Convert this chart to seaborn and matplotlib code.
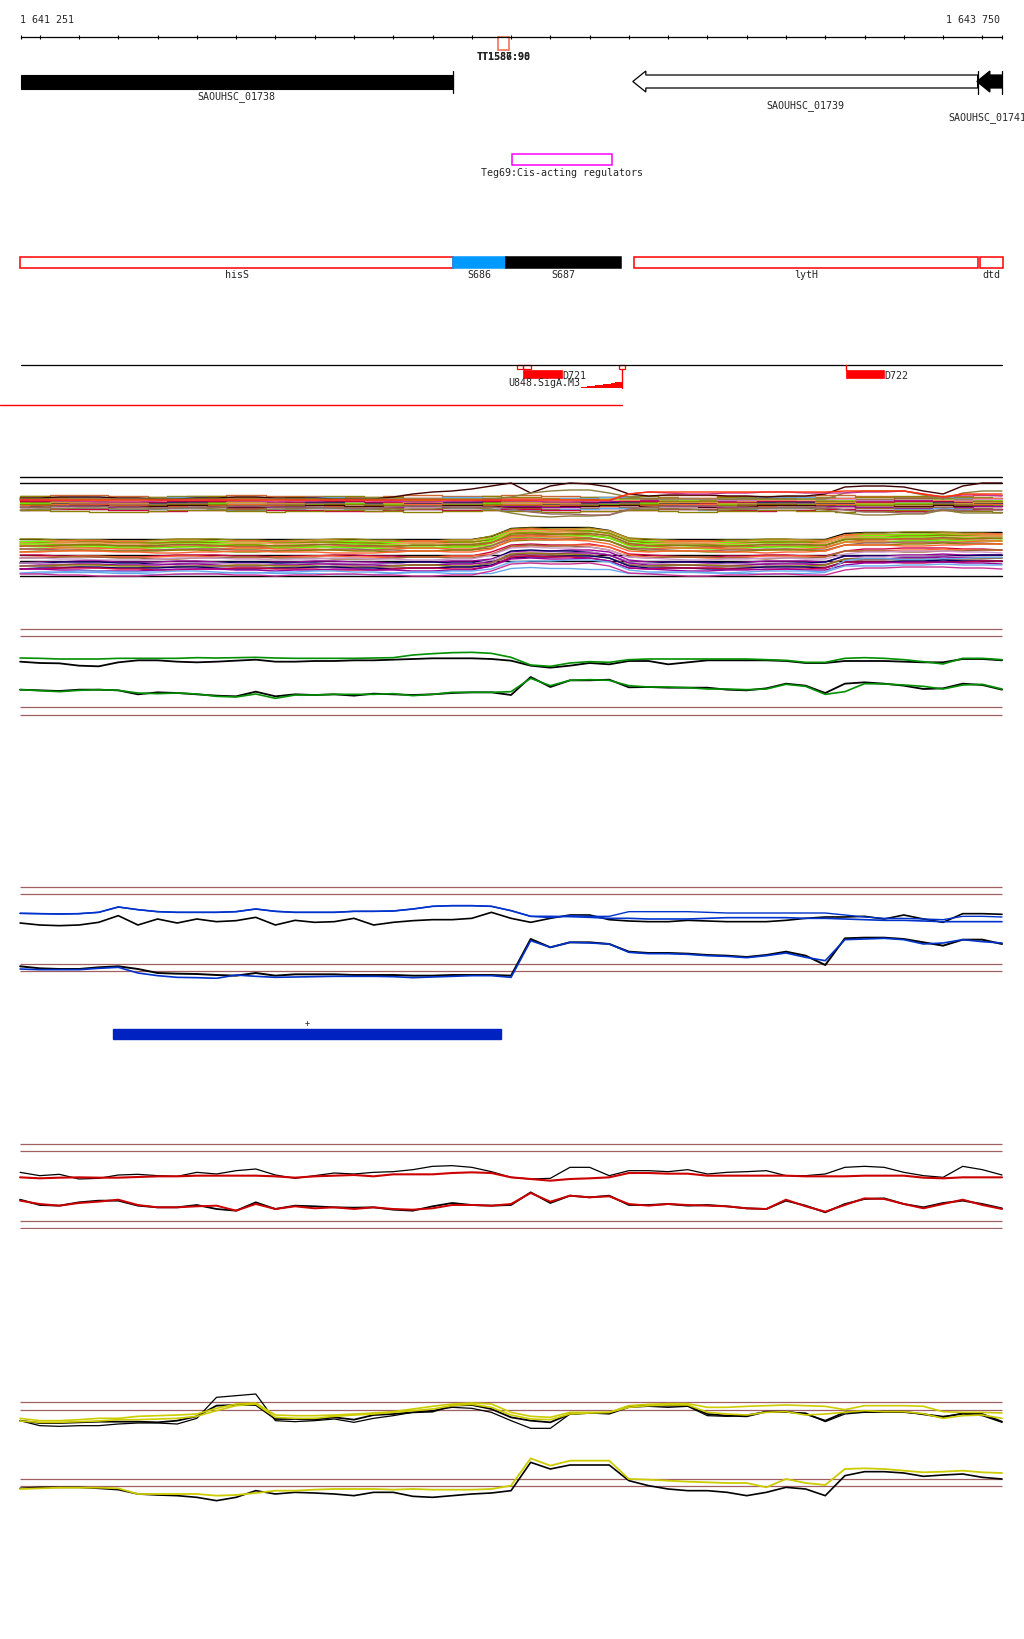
import numpy as np
import pandas as pd
import seaborn as sns
import matplotlib.pyplot as plt
from matplotlib.patches import Rectangle, Polygon

# ---- region / probes ----
region_start, region_end = 1641251, 1643750
ruler_ticks = [1641251] + list(range(1641300, 1643701, 100)) + [1643750]
pos = np.arange(1641250, 1643751, 50)   # probe positions (51)

# ---- annotation features ----
gene_names = ['SAOUHSC_01738', 'SAOUHSC_01739', 'SAOUHSC_01741']
gene_starts = [1641251, 1642810, 1643686]
gene_ends = [1642352, 1643688, 1643750]
gene_strands = ['+', '-', '-']
gene_fills = ['black', 'white', 'black']

term_names = ['TT1586:90', 'TT1587:98']
term_start, term_end = 1642467, 1642495

reg_name = 'Teg69:Cis-acting regulators'
reg_start, reg_end = 1642502, 1642756

seg_names = ['hisS', 'S686', 'S687', 'lytH', 'dtd']
seg_starts = [1641250, 1642353, 1642487, 1642813, 1643693]
seg_ends = [1642353, 1642487, 1642780, 1643688, 1643752]
seg_fills = ['white', '#0099FF', 'black', 'white', 'white']
seg_edges = ['red', '#0099FF', 'black', 'red', 'red']

site_names = ['D721', 'D722']
site_starts = [1642531, 1643352]
site_ends = [1642630, 1643450]
small_box_starts = [1642516, 1642531, 1642774]
small_box_ends = [1642531, 1642551, 1642790]
tss_name = 'U848.SigA.M3'
tss_steps = [1642678, 1642693, 1642713, 1642734, 1642754, 1642764, 1642782]
tss_heights = [1, 2, 3, 4, 5, 6.5, 6.5]
tss_pos = 1642782
blue_block = (1641486, 1642474)

# ---- multicolour expression bundle ----
top_hump = [0]*19 + [1, 3, 5, 7, 9, 12, 14, 4, 12, 15, 15, 12, 4, 2, 2, 2, 2, 2, 2, 2, 2, 2, 3, 10, 12, 12, 12, 8, 4, 12, 14, 14]
top_hump2 = [0]*25 + [2, 6, 8, 9, 9, 6, 2] + [0]*10 + [6, 8, 8, 8, 4, 0, 6, 8, 8]
top_mid = [0]*31 + [6] + [8]*10 + [9, 9, 9, 9, 6, 3, 6, 6, 6]
top_dip = [0]*25 + [-3, -6, -7, -7, -7, -7, -2] + [0]*9 + [-1, -4, -5, -5, -5, -5, -2, -4, -4, -4]
bot_main = [0]*24 + [3, 11, 12, 12, 12, 12, 9, 1] + [0]*10 + [6] + [7]*8
bot_blue = [0]*25 + [4, 5, 5, 5, 5, 5] + [0]*11 + [12] + [15]*8
flat = [0]*51
shapes = {'flat': flat, 'hump': top_hump, 'hump2': top_hump2, 'mid': top_mid,
          'dip': top_dip, 'main': bot_main, 'blue': bot_blue}

# small step-wise deviations seen along individual bundle lines
wiggle_a = [0, 0, 1, 1, 1, 0, 0, -1, -1, 0, 0, 1, 1, 0, 0, 0, -1, -1, -1, 0, 1, 1, 0, 0, 0,
            1, 1, 0, 0, -1, -1, 0, 0, 1, 1, 1, 0, 0, -1, 0, 0, 1, 1, 0, 0, -1, -1, 0, 0, 1, 1]
wiggle_b = [1, 1, 0, 0, -1, -1, -1, 0, 1, 1, 1, 0, 0, -1, 0, 0, 1, 1, 0, 0, -1, -1, 0, 0, 1,
            0, 0, -1, -1, 0, 0, 1, 1, 0, -1, -1, 0, 0, 1, 1, 0, 0, -1, 0, 0, 1, 1, 1, 0, 0, -1]
wiggle_c = [-1, 0, 0, 1, 1, 0, 0, 0, 1, 1, 0, -1, -1, 0, 0, 1, 1, 0, 0, -1, 0, 0, 1, 1, 0,
            -1, -1, -1, 0, 0, 1, 1, 0, 0, 0, -1, -1, 0, 1, 1, 1, 0, 0, -1, -1, 0, 0, 1, 0, 0, 0]
wiggles = {'0': flat, 'a': wiggle_a, 'b': wiggle_b, 'c': wiggle_c}

bundle_levels = [111.7, 105.7,
                 93, 92, 91, 90.5, 90, 89, 89, 88, 88, 87, 87, 86, 86, 85, 85, 84, 84, 83, 82, 81, 80, 79, 78,
                 91, 90, 88, 89, 80, 82,
                 49.5, 49, 48, 47, 46.5, 46, 45, 44, 43.5, 43, 42, 41, 40, 39, 38, 37, 34.3, 33, 32, 31, 30,
                 27.7, 27, 26, 25, 24, 23, 22, 21, 20, 19, 17, 15.5, 14, 12.7]
bundle_colors = ['black', 'black',
                 '#CC6633', '#8B8000', '#66AAEE', '#FF6633', '#996633', '#66FF00', '#CC99CC', '#990099',
                 '#FF9966', '#8B8000', '#CC0044', '#000066', '#CC9933', '#66FF00', '#996666', '#FF6633',
                 '#8B8000', '#400000', '#990099', '#996633', '#66AAEE', '#CC0044', '#8B8000',
                 '#400000', '#8B7D3A', '#CC3399', '#FF3300', '#8B7D3A', '#996666',
                 'black', '#8B8000', '#CC9933', '#FF6633', '#66FF00', '#8B8000', '#FF9966', '#66FF00',
                 '#996633', '#8B8000', '#CC6633', '#66FF00', '#FF6633', '#996666', '#8B8000', '#FF6633',
                 'black', '#CC0044', '#FF6633', '#996633', '#CC99CC',
                 'black', '#990099', '#000066', '#CC99CC', '#990099', '#8B8000', '#996666', '#000066',
                 '#CC0044', '#990099', '#66AAEE', '#66AAEE', '#CC3399', 'black']
bundle_shapes = ['flat', 'flat'] + ['flat']*23 + ['hump', 'hump2', 'mid', 'mid', 'dip', 'dip'] + \
                ['main']*16 + ['flat'] + ['main']*4 + ['flat'] + ['main']*10 + ['blue', 'main', 'flat']
bundle_wiggle = '00' + 'abcabcabcabcabcabcabcab' + 'a0b0ca' + '0bcabcabcabcabca' + '0' + 'bcab' + '0' + \
                'cabcabcabc' + 'ab0'

# ---- paired expression tracks (black vs coloured) ----
green_up = [183, 182, 180, 180, 180, 182, 182, 182, 182, 184, 183, 184, 185, 183, 182, 182, 182, 182, 183, 184, 192, 196, 199, 200, 197, 185, 162, 158, 168, 172, 170, 178, 180, 180, 180, 180, 180, 180, 178, 176, 170, 170, 182, 184, 182, 178, 172, 165, 182, 182, 178]
green_up_k = [172, 168, 167, 160, 158, 170, 176, 176, 172, 170, 172, 175, 178, 172, 172, 174, 174, 176, 176, 178, 180, 182, 182, 182, 180, 175, 160, 154, 160, 168, 164, 174, 174, 164, 170, 176, 176, 176, 176, 174, 168, 168, 174, 174, 174, 172, 170, 170, 180, 180, 176]
green_lo = [88, 85, 82, 86, 88, 86, 78, 76, 78, 75, 68, 66, 75, 62, 72, 72, 74, 74, 74, 76, 70, 74, 80, 80, 80, 82, 122, 100, 116, 118, 116, 100, 96, 96, 94, 90, 90, 88, 90, 104, 98, 74, 82, 106, 105, 102, 98, 90, 102, 104, 90]
green_lo_k = [88, 86, 84, 88, 88, 86, 74, 80, 78, 74, 70, 68, 82, 68, 74, 72, 74, 70, 76, 74, 72, 74, 78, 80, 80, 72, 126, 96, 116, 116, 118, 95, 96, 94, 94, 94, 88, 86, 92, 106, 100, 78, 106, 110, 106, 100, 90, 92, 106, 102, 88]

blue_up = [197, 196, 195, 196, 200, 216, 208, 202, 200, 200, 200, 202, 210, 203, 200, 200, 200, 203, 203, 204, 210, 218, 220, 220, 218, 205, 188, 188, 187, 185, 182, 182, 180, 180, 180, 182, 184, 184, 184, 184, 182, 182, 180, 178, 176, 176, 174, 172, 172, 172, 172]
blue_up2 = [197, 196, 195, 196, 200, 216, 208, 202, 200, 200, 200, 202, 210, 203, 200, 200, 200, 203, 203, 204, 210, 218, 220, 220, 218, 205, 188, 184, 190, 188, 188, 202, 202, 202, 202, 200, 198, 198, 198, 198, 198, 198, 192, 186, 182, 182, 180, 178, 188, 188, 186]
blue_up_k = [168, 162, 160, 162, 170, 190, 162, 180, 168, 180, 172, 175, 185, 162, 176, 170, 172, 182, 162, 170, 175, 178, 178, 182, 200, 182, 170, 182, 192, 192, 178, 174, 172, 172, 176, 174, 172, 172, 172, 176, 182, 186, 186, 188, 180, 192, 180, 170, 196, 196, 194]
blue_lo_k = [38, 32, 30, 30, 35, 38, 30, 18, 16, 15, 12, 10, 18, 10, 14, 14, 14, 12, 12, 12, 10, 10, 12, 12, 12, 10, 120, 95, 110, 110, 105, 82, 78, 78, 76, 72, 70, 66, 72, 82, 70, 42, 122, 124, 124, 120, 110, 100, 118, 118, 105]
blue_lo = [30, 28, 28, 28, 32, 35, 18, 10, 5, 4, 2, 12, 8, 5, 6, 7, 8, 8, 8, 7, 4, 6, 8, 10, 10, 5, 115, 95, 110, 108, 105, 80, 76, 76, 74, 70, 68, 64, 70, 78, 65, 55, 118, 120, 122, 118, 105, 108, 118, 112, 108]

red_up = [155, 152, 154, 155, 154, 154, 156, 158, 158, 160, 160, 160, 160, 158, 154, 158, 160, 162, 158, 164, 164, 164, 168, 170, 168, 155, 150, 145, 150, 152, 155, 168, 168, 166, 166, 160, 160, 160, 160, 160, 158, 158, 158, 160, 160, 160, 154, 152, 155, 155, 155]
red_up_k = [170, 160, 164, 150, 152, 162, 164, 160, 158, 170, 165, 175, 180, 162, 152, 160, 168, 165, 170, 172, 178, 188, 190, 185, 172, 155, 150, 152, 185, 185, 160, 175, 175, 172, 178, 165, 170, 172, 175, 160, 160, 165, 185, 188, 185, 170, 160, 155, 188, 178, 162]
red_lo = [85, 75, 70, 78, 82, 88, 72, 65, 65, 68, 70, 55, 75, 60, 68, 62, 65, 60, 65, 60, 58, 62, 72, 72, 70, 75, 108, 82, 100, 95, 98, 75, 70, 75, 72, 70, 68, 62, 60, 88, 68, 52, 72, 92, 90, 75, 62, 75, 88, 72, 60]
red_lo_k = [88, 72, 70, 80, 85, 85, 70, 65, 65, 72, 60, 55, 80, 60, 70, 68, 65, 64, 65, 58, 55, 68, 78, 72, 70, 72, 110, 78, 100, 95, 100, 72, 72, 75, 70, 72, 68, 62, 60, 85, 70, 50, 75, 90, 92, 75, 65, 78, 85, 75, 62]

yellow_up = [302, 295, 295, 298, 302, 302, 308, 310, 312, 315, 332, 345, 348, 312, 310, 310, 312, 315, 318, 322, 330, 338, 345, 348, 345, 320, 308, 305, 320, 320, 320, 340, 344, 346, 346, 335, 335, 338, 340, 342, 340, 338, 328, 340, 340, 340, 338, 322, 320, 320, 318]
yellow_up2 = [294, 290, 290, 292, 294, 298, 298, 300, 302, 308, 325, 340, 345, 305, 302, 302, 308, 312, 315, 320, 325, 330, 340, 344, 335, 312, 300, 298, 315, 318, 320, 335, 340, 342, 342, 320, 315, 312, 320, 322, 312, 315, 320, 325, 322, 322, 316, 302, 310, 312, 302]
yellow_up_k = [295, 280, 278, 280, 280, 285, 288, 288, 285, 302, 365, 370, 375, 295, 292, 295, 300, 290, 302, 310, 320, 325, 335, 332, 320, 295, 272, 272, 315, 318, 315, 335, 338, 335, 338, 310, 308, 312, 322, 320, 318, 292, 315, 320, 320, 320, 315, 308, 315, 310, 290]
yellow_up_k2 = [295, 288, 288, 290, 292, 292, 292, 290, 295, 308, 340, 342, 342, 300, 300, 298, 305, 298, 312, 315, 320, 322, 340, 342, 330, 305, 295, 290, 315, 318, 318, 338, 340, 340, 340, 315, 310, 308, 322, 322, 315, 295, 320, 322, 322, 322, 314, 305, 317, 315, 292]
yellow_lo = [90, 92, 94, 94, 94, 92, 75, 75, 75, 75, 70, 72, 78, 85, 85, 88, 90, 90, 90, 88, 90, 88, 88, 88, 90, 100, 182, 160, 175, 175, 175, 120, 118, 115, 112, 110, 108, 108, 95, 120, 108, 102, 150, 152, 150, 145, 140, 142, 145, 140, 138]
yellow_lo_k = [92, 95, 95, 95, 92, 88, 75, 72, 70, 65, 55, 65, 85, 75, 80, 78, 75, 70, 80, 80, 68, 65, 70, 75, 78, 85, 170, 150, 162, 162, 162, 115, 100, 90, 85, 85, 80, 70, 80, 95, 90, 70, 130, 142, 142, 138, 128, 132, 135, 125, 120]

green_thr = [269, 248, 35, 13]
blue_thr = [275, 254, 44, 23]
red_thr = [254, 233, 24, 3]
yellow_thr = [350, 328, 120, 98]

# ---------------------------------------------------------------
W, H = 1024, 1640
bpp = (region_end - region_start) / 981.5
X0 = region_start - 20.5 * bpp
X1 = X0 + W * bpp
FS = 7.2
ROSE = '#A06060'

sns.set_style('white')
plt.rcParams['font.family'] = ['DejaVu Sans Mono', 'DejaVu Sans']

fig = plt.figure(figsize=(W / 100, H / 100), dpi=100)

ann = fig.add_axes([0, 0, 1, 1])
ann.set_xlim(X0, X1)
ann.set_ylim(H, 0)
ann.axis('off')

# ruler
ann.plot([region_start, region_end], [38, 38], color='black', lw=0.9)
ann.vlines(ruler_ticks, 36.3, 40.3, color='black', lw=0.8)
ann.text(region_start, 20, f'{region_start:,}'.replace(',', ' '), fontsize=FS, va='center', ha='left')
ann.text(region_end - 4, 20, f'{region_end:,}'.replace(',', ' '), fontsize=FS, va='center', ha='right')

# terminator
ann.add_patch(Rectangle((term_start, 38), term_end - term_start, 13, fill=False, ec='#F06848', lw=1.1))
for nm in term_names:
    ann.text((term_start + term_end) / 2, 57, nm, fontsize=FS, weight='bold', ha='center', va='center')

# genes
head = 13 * bpp
for nm, s, e, st, fc in zip(gene_names, gene_starts, gene_ends, gene_strands, gene_fills):
    if st == '+':
        ann.add_patch(Rectangle((s, 76), e - s, 14, fc=fc, ec='black', lw=0.8))
        ann.plot([e, e], [72, 94], color='black', lw=0.9)
    else:
        hb = s + head
        pts = [(s, 82.5), (hb, 72), (hb, 76), (e, 76), (e, 89), (hb, 89), (hb, 93)]
        ann.add_patch(Polygon(pts, closed=True, fc=fc, ec='black', lw=0.9))
        ann.plot([e, e], [72, 95], color='black', lw=0.9)
ann.text((gene_starts[0] + gene_ends[0]) / 2, 97, gene_names[0], fontsize=FS, ha='center', va='center')
ann.text((gene_starts[1] + gene_ends[1]) / 2, 106, gene_names[1], fontsize=FS, ha='center', va='center')
ann.text(gene_starts[2] - 28 * bpp, 118, gene_names[2], fontsize=FS, ha='left', va='center')

# regulator
ann.add_patch(Rectangle((reg_start, 155), reg_end - reg_start, 11, fill=False, ec='#FF00FF', lw=1.1))
ann.text((reg_start + reg_end) / 2, 172.5, reg_name, fontsize=FS, ha='center', va='center')

# segments
for nm, s, e, fc, ec in zip(seg_names, seg_starts, seg_ends, seg_fills, seg_edges):
    ann.add_patch(Rectangle((s, 258), e - s, 10.5, fc=fc, ec=ec, lw=1.1))
    ann.text((s + e) / 2, 275, nm, fontsize=FS, ha='center', va='center')

# sites line
ann.plot([region_start, region_end], [366, 366], color='black', lw=0.9)
for s, e in zip(small_box_starts, small_box_ends):
    ann.add_patch(Rectangle((s, 366), e - s, 4.3, fill=False, ec='red', lw=0.9))
for nm, s, e in zip(site_names, site_starts, site_ends):
    ann.add_patch(Rectangle((s, 370.7), e - s, 8.6, fc='red', ec='red', lw=0.5))
    ann.text(e, 375.7, nm, fontsize=FS, ha='left', va='center')
ann.plot([site_starts[1], site_starts[1]], [366, 371], color='red', lw=1)
ann.fill_between(tss_steps, 389.3 - np.array(tss_heights), 389.3, step='post', color='red', lw=0)
ann.plot([tss_pos, tss_pos], [370, 389.3], color='red', lw=1)
ann.text(tss_steps[0] - 1 * bpp, 383.3, tss_name, fontsize=FS, ha='right', va='center')
ann.plot([X0, tss_pos], [406, 406], color='red', lw=1)

# blue block
ann.add_patch(Rectangle((blue_block[0], 1030), blue_block[1] - blue_block[0], 10, fc='#0022C0', ec='#0022C0'))
ann.text((blue_block[0] + blue_block[1]) / 2, 1023, '+', fontsize=6, ha='center', va='center')


def track(top, bottom, ymax):
    a = fig.add_axes([0, 1 - bottom / H, 1, (bottom - top) / H])
    a.patch.set_alpha(0)
    return a, ymax


def finish(a, ymax):
    a.set_xlim(X0, X1)
    a.set_ylim(0, ymax)
    a.axis('off')


# multicolour bundle: flat lines drawn as steps, shaped lines with sloped ramps
a, ym = track(460, 590, 130)
rows = []
for k, (lv, sh, wg) in enumerate(zip(bundle_levels, bundle_shapes, bundle_wiggle)):
    vals = lv + np.array(shapes[sh]) + np.array(wiggles[wg])
    rows.append(pd.DataFrame({'pos': pos, 'value': vals, 'line': k, 'flat': sh == 'flat'}))
df = pd.concat(rows)
pal = dict(enumerate(bundle_colors))
df_flat = df[df['flat']]
df_shaped = df[~df['flat']]
sns.lineplot(data=df_flat, x='pos', y='value', hue='line', palette={k: pal[k] for k in df_flat['line'].unique()},
             estimator=None, legend=False, linewidth=1.0, drawstyle='steps-mid', ax=a)
sns.lineplot(data=df_shaped, x='pos', y='value', hue='line', palette={k: pal[k] for k in df_shaped['line'].unique()},
             estimator=None, legend=False, linewidth=1.0, ax=a)
finish(a, ym)


def pair_track(top, bottom, ymax, thr, blacks, colours, col):
    a, ym = track(top, bottom, ymax)
    a.hlines(thr, pos[0], pos[-1], color=ROSE, lw=0.9)
    for vals, lw in blacks:
        sns.lineplot(x=pos, y=vals, color='black', linewidth=lw, ax=a)
    for vals, lw in colours:
        sns.lineplot(x=pos, y=vals, color=col, linewidth=lw, ax=a)
    finish(a, ym)


pair_track(620, 720, 300, green_thr,
           [(green_up_k, 1.3), (green_lo_k, 1.3)],
           [(green_up, 1.2), (green_lo, 1.2)], '#009000')
pair_track(880, 980, 300, blue_thr,
           [(blue_up_k, 1.2), (blue_lo_k, 1.4)],
           [(blue_up, 1.2), (blue_up2, 1.0), (blue_lo, 1.2)], '#0033CC')
pair_track(1130, 1230, 300, red_thr,
           [(red_up_k, 0.9), (red_lo_k, 1.3)],
           [(red_up, 1.5), (red_lo, 1.4)], '#CC0000')
pair_track(1380, 1520, 420, yellow_thr,
           [(yellow_up_k, 0.9), (yellow_up_k2, 1.3), (yellow_lo_k, 1.2)],
           [(yellow_up, 1.2), (yellow_up2, 1.2), (yellow_lo, 1.3)], '#CCCC00')

fig.savefig('out.png', dpi=100)
